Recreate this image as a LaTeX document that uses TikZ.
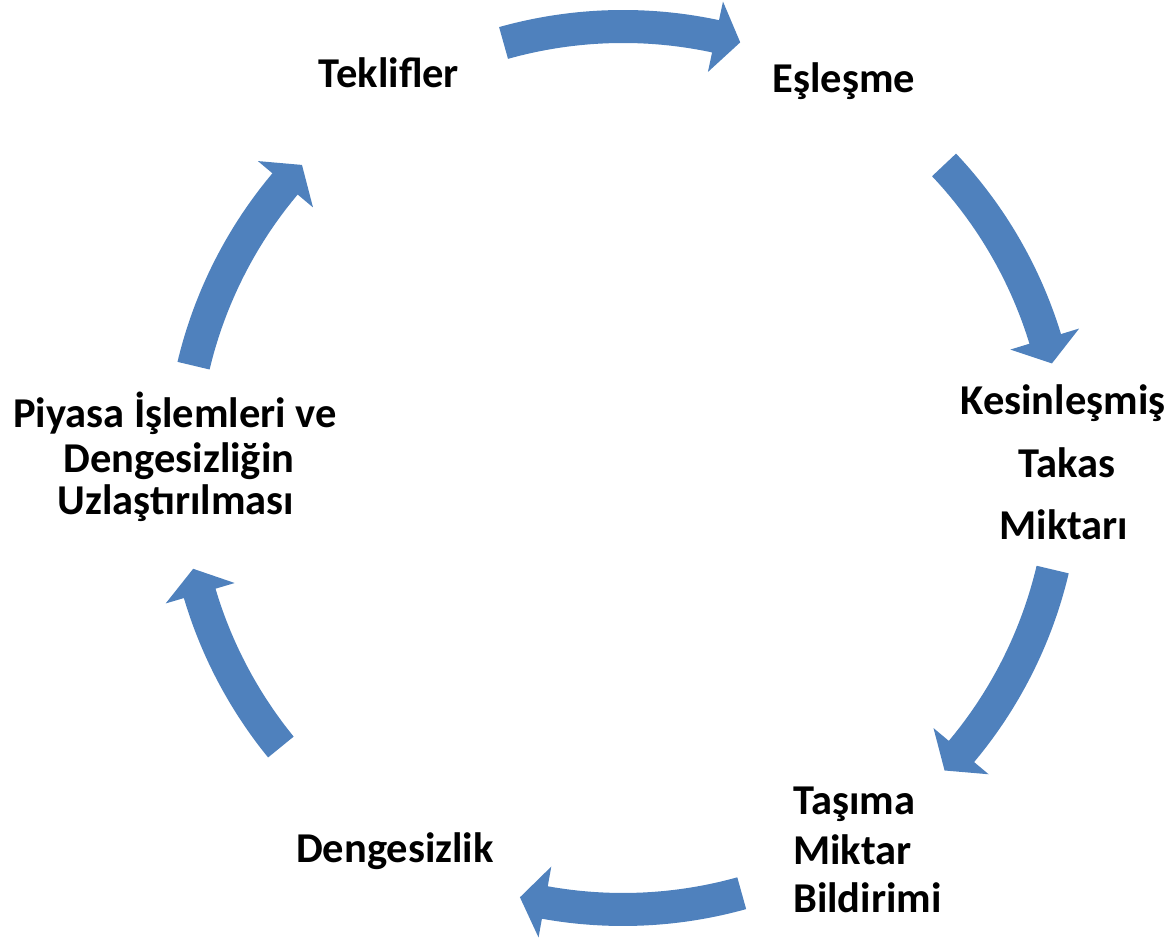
\documentclass[tikz,border=0pt]{standalone}
\usepackage{fontspec}
\setmainfont{Carlito}
\usetikzlibrary{calc}
\definecolor{arrowblue}{RGB}{79,129,189}
\newcommand{\cyclearrow}[2]{%
  \fill[arrowfill] ($(C)+(#1:458pt)$) arc[start angle=#1, end angle=#2+3.3, radius=458pt]
    -- ($(C)+(#2+3.3:477pt)$) -- ($(C)+(#2:441.5pt)$) -- ($(C)+(#2+3.3:405pt)$)
    -- ($(C)+(#2+3.3:425pt)$) arc[start angle=#2+3.3, end angle=#1, radius=425pt] -- cycle;}
\begin{document}
\begin{tikzpicture}[x=1pt,y=1pt,
  arrowfill/.style={fill=arrowblue},
  lbl/.style={inner sep=0pt, font=\fontsize{42.5pt}{50pt}\selectfont\bfseries, text=black}]
\useasboundingbox (0,0) rectangle (1175,944);
\coordinate (C) at (623,476);
% arrows
\cyclearrow{105.7}{74.6}
\cyclearrow{43.35}{13.7}
\cyclearrow{-13.3}{-43.25}
\cyclearrow{-74.4}{-103.5}
\cyclearrow{219.2}{193.2}
\cyclearrow{166.6}{136.65}
% labels
\node[lbl, anchor=base] (tek) at (389,856) {Teklifler};
\node[lbl, anchor=base] (esl) at (844,851) {Eşleşme};
\node[lbl, anchor=base] (kes1) at (1063,529) {Kesinleşmiş};
\node[lbl, anchor=base] (kes2) at (1067,466) {Takas};
\node[lbl, anchor=base] (kes3) at (1064,404) {Miktarı};
\node[lbl, anchor=base west] (tas1) at (793,129) {Taşıma};
\node[lbl, anchor=base west] (tas2) at (793,79) {Miktar};
\node[lbl, anchor=base west] (tas3) at (793,31) {Bildirimi};
\node[lbl, anchor=base] (den) at (395,81) {Dengesizlik};
\node[lbl, anchor=base] (pi1) at (175,516) {Piyasa İşlemleri ve};
\node[lbl, anchor=base] (pi2) at (179,471) {Dengesizliğin};
\node[lbl, anchor=base] (pi3) at (176,429) {Uzlaştırılması};
\end{tikzpicture}
\end{document}
